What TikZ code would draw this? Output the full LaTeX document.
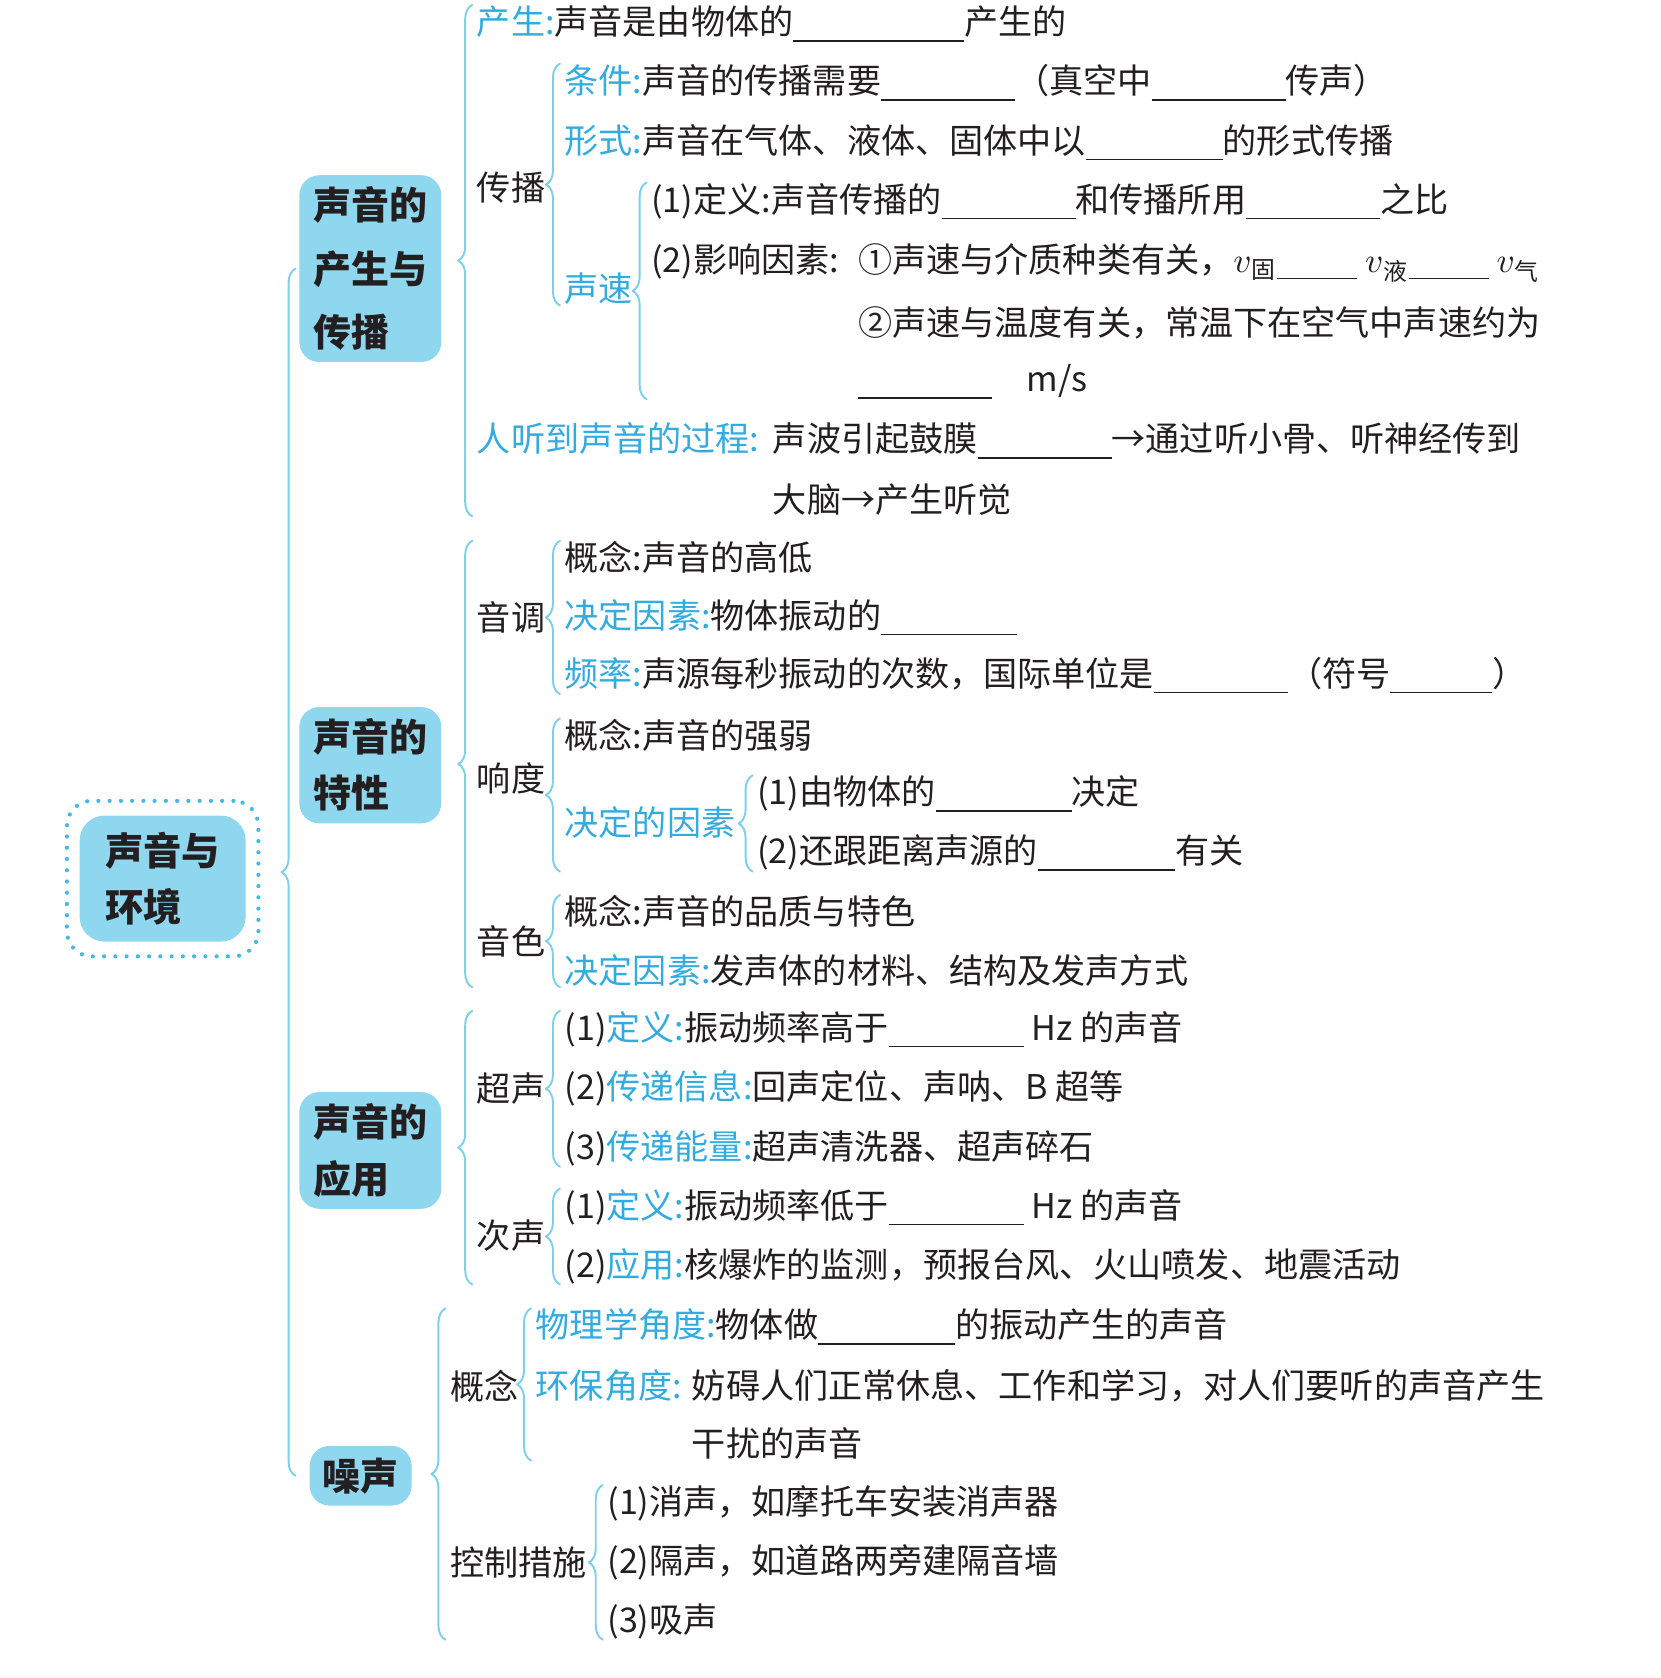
\documentclass[tikz,border=0pt]{standalone}
\usepackage{fontspec}
\usepackage{xcolor}
\usepackage{tikz}
\usetikzlibrary{positioning,calc,fit,decorations.pathreplacing}
\newfontfamily\cjk{Noto Sans CJK SC}
\definecolor{boxcyan}{HTML}{8ED7EE}
\definecolor{bracecyan}{HTML}{7ECFEA}
\definecolor{dotcyan}{HTML}{45B8E4}
\definecolor{labelblue}{HTML}{34ABDF}
\definecolor{ink}{HTML}{231F20}
\newcommand{\kw}[1]{\textcolor{labelblue}{#1}}
\newcommand{\blank}[1]{\rule[-2pt]{#1mm}{0.45pt}}
\tikzset{
    every picture/.style={line cap=round,line join=round},
    rootbox/.style={fill=boxcyan,rounded corners=2.5mm,text=ink,
      font=\cjk\bfseries\fontsize{10.9pt}{15.8pt}\selectfont,align=left,
      minimum width=1.66cm,minimum height=1.26cm,inner sep=1mm},
    dotframe/.style={draw=dotcyan,line width=1.2pt,dash pattern=on 0pt off 3.2pt,
      rounded corners=2.5mm,inner xsep=1.2mm,inner ysep=1.4mm},
    topicbox/.style={fill=boxcyan,rounded corners=2mm,text=ink,
      font=\cjk\bfseries\fontsize{10.8pt}{16pt}\selectfont,align=left,
      minimum width=1.41cm,inner xsep=1.4mm},
    item/.style={anchor=west,inner sep=0pt,text=ink},
    brc/.style={draw=bracecyan,line width=0.55pt,decorate,
      decoration={brace,amplitude=1.4mm}}
}
\begin{document}
\begin{tikzpicture}[x=0.010702cm,y=-0.010702cm,font=\cjk\fontsize{9.7pt}{12pt}\selectfont]
  \useasboundingbox (0,0) rectangle (1552,1568);
  % root and topics
  \node[rootbox] (root) at (152,821) {声音与\\环境};
  \node[dotframe,fit=(root)] (rootfrm) {};
  \node[topicbox,minimum height=1.79cm] (bA) at (346,251) {声音的\\[2pt]产生与\\[2pt]传播};
  \node[topicbox,minimum height=1.12cm] (bB) at (346,715) {声音的\\特性};
  \node[topicbox,minimum height=1.12cm] (bC) at (346,1075) {声音的\\应用};
  \node[topicbox,minimum width=1.02cm,minimum height=0.45cm,inner xsep=1mm] (bD) at (337,1379) {噪声};
  \draw[brc] ([xshift=-0.3mm]bA.west |- bD.west) -- ([xshift=-0.3mm]bA.west);

  % production and propagation
  \node[item] (cs) at (445,22) {\kw{产生:}声音是由物体的\blank{17.1}产生的};
  \node[item] (cb) at (445,175) {传播};
  \node[item] (tj) at (527,77) {\kw{条件:}声音的传播需要\blank{13.4}（真空中\blank{13.4}传声）};
  \node[item] (xs) at (527,133) {\kw{形式:}声音在气体、液体、固体中以\blank{13.7}的形式传播};
  \node[item] (ss) at (527,270) {\kw{声速}};
  \node[item] (dy) at (608,188) {(1)定义:声音传播的\blank{13.4}和传播所用\blank{13.4}之比};
  \node[item] (yx) at (608,244) {(2)影响因素:};
  \node[item,base right=5pt of yx] (yx2) {①声速与介质种类有关，$v$\textsubscript{固}\blank{8}~$v$\textsubscript{液}\blank{8}~$v$\textsubscript{气}};
  \node[item] (wd) at ($(yx2.west)+(0,56)$) {②声速与温度有关，常温下在空气中声速约为};
  \node[item] (ms) at ($(wd.west)+(0,55)$) {\blank{13.4}\quad m/s};
  \node[item] (gc) at (445,410) {\kw{人听到声音的过程:}};
  \node[item,base right=3.5pt of gc] (gc2) {声波引起鼓膜\blank{13.4}→通过听小骨、听神经传到};
  \node[item] (nao) at ($(gc2.west)+(0,55)$) {大脑→产生听觉};
  \draw[brc] ([xshift=-0.4mm]cs.west |- nao.south) -- ([xshift=-0.4mm]cs.north west);
  \draw[brc] ([xshift=-0.4mm]tj.west |- ss.south) -- ([xshift=-0.4mm]tj.north west);
  \draw[brc] ([xshift=-0.4mm]dy.west |- ms.south) -- ([xshift=-0.4mm]dy.north west);

  % characteristics
  \node[item] (yd) at (445,577) {音调};
  \node[item] (gn1) at (527,521) {概念:声音的高低};
  \node[item] (jd1) at (527,577) {\kw{决定因素:}物体振动的\blank{13.6}};
  \node[item] (pl) at (527,631) {\kw{频率:}声源每秒振动的次数，国际单位是\blank{13.4}（符号\blank{10.2}）};
  \node[item] (xd) at (445,727) {响度};
  \node[item] (gn2) at (527,687) {概念:声音的强弱};
  \node[item] (jdy) at (527,769) {\kw{决定的因素}};
  \node[item] (zd1) at (707,742) {(1)由物体的\blank{13.6}决定};
  \node[item] (zd2) at (707,797) {(2)还跟距离声源的\blank{13.7}有关};
  \node[item] (ys) at (445,880) {音色};
  \node[item] (gn3) at (527,852) {概念:声音的品质与特色};
  \node[item] (jd3) at (527,907) {\kw{决定因素:}发声体的材料、结构及发声方式};
  \draw[brc] ([xshift=-0.4mm]yd.west |- jd3.south) -- ([xshift=-0.4mm]yd.west |- gn1.north);
  \draw[brc] ([xshift=-0.4mm]gn1.west |- pl.south) -- ([xshift=-0.4mm]gn1.north west);
  \draw[brc] ([xshift=-0.4mm]gn2.west |- zd2.south) -- ([xshift=-0.4mm]gn2.north west);
  \draw[brc] ([xshift=-0.4mm]zd1.west |- zd2.south) -- ([xshift=-0.4mm]zd1.north west);
  \draw[brc] ([xshift=-0.4mm]gn3.west |- jd3.south) -- ([xshift=-0.4mm]gn3.north west);

  % applications
  \node[item] (chao) at (445,1017) {超声};
  \node[item] (ch1) at (527,962) {(1)\kw{定义:}振动频率高于\blank{13.5}\ Hz 的声音};
  \node[item] (ch2) at (527,1017) {(2)\kw{传递信息:}回声定位、声呐、B 超等};
  \node[item] (ch3) at (527,1073) {(3)\kw{传递能量:}超声清洗器、超声碎石};
  \node[item] (ci) at (445,1155) {次声};
  \node[item] (ci1) at (527,1128) {(1)\kw{定义:}振动频率低于\blank{13.5}\ Hz 的声音};
  \node[item] (ci2) at (527,1183) {(2)\kw{应用:}核爆炸的监测，预报台风、火山喷发、地震活动};
  \draw[brc] ([xshift=-0.4mm]chao.west |- ci2.south) -- ([xshift=-0.4mm]chao.west |- ch1.north);
  \draw[brc] ([xshift=-0.4mm]ch1.west |- ch3.south) -- ([xshift=-0.4mm]ch1.north west);
  \draw[brc] ([xshift=-0.4mm]ci1.west |- ci2.south) -- ([xshift=-0.4mm]ci1.north west);

  % noise
  \node[item] (gn) at (420,1295) {概念};
  \node[item] (wl) at (500,1240) {\kw{物理学角度:}物体做\blank{13.7}的振动产生的声音};
  \node[item] (hb) at (500,1295) {\kw{环保角度:}};
  \node[item,base right=2.5pt of hb] (hb2) {妨碍人们正常休息、工作和学习，对人们要听的声音产生};
  \node[item] (gr) at ($(hb2.west)+(0,54)$) {干扰的声音};
  \node[item] (kz) at (420,1460) {控制措施};
  \foreach \t [count=\i] in {(1)消声，如摩托车安装消声器,(2)隔声，如道路两旁建隔音墙,(3)吸声}
    \node[item] (k\i) at (567,1350+55*\i) {\t};
  \draw[brc] ([xshift=-0.4mm]gn.west |- k3.south) -- ([xshift=-0.4mm]gn.west |- wl.north);
  \draw[brc] ([xshift=-0.4mm]wl.west |- gr.south) -- ([xshift=-0.4mm]wl.north west);
  \draw[brc] ([xshift=-0.4mm]k1.west |- k3.south) -- ([xshift=-0.4mm]k1.north west);
\end{tikzpicture}
\end{document}
